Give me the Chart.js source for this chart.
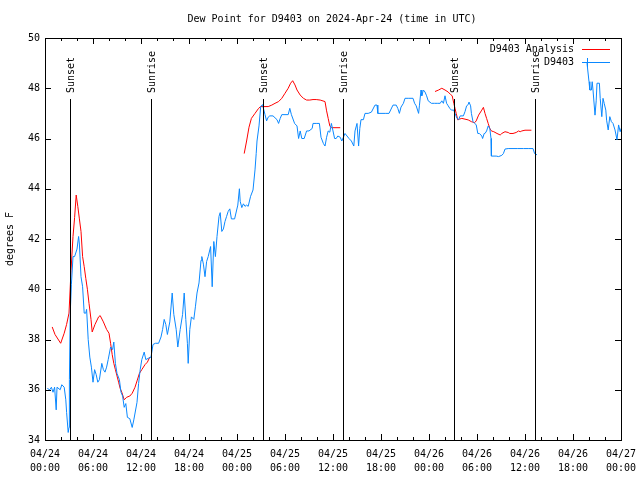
<!DOCTYPE html>
<html>
<head>
<meta charset="utf-8">
<script src="https://cdn.jsdelivr.net/npm/chart.js@4/dist/chart.umd.min.js"></script>
<style>
html,body{margin:0;padding:0;background:#fff;}
canvas{display:block;}
</style>
</head>
<body>
<canvas id="c" width="640" height="480"></canvas>
<script>
// ---- data (x = hours since 2024-04-24 00:00 UTC, y = dew point in F) ----
const titleText = "Dew Point for D9403 on 2024-Apr-24 (time in UTC)";
const yTitle = "degrees F";

const tickDates = ["04/24","04/24","04/24","04/24","04/25","04/25","04/25","04/25","04/26","04/26","04/26","04/26","04/27"];
const tickTimes = ["00:00","06:00","12:00","18:00","00:00","06:00","12:00","18:00","00:00","06:00","12:00","18:00","00:00"];

const sunHours = [3.1, 13.3, 27.2, 37.3, 51.1, 61.2];
const sunLabels = ["Sunset","Sunrise","Sunset","Sunrise","Sunset","Sunrise"];

const obsHours = [0.3,0.6,0.8,1.0,1.2,1.4,1.5,1.9,2.1,2.4,2.6,2.7,2.9,3.0,3.05,3.15,3.3,3.5,3.7,4.0,4.2,4.3,4.5,4.7,4.9,5.1,5.2,5.4,5.6,5.8,6.0,6.2,6.4,6.6,6.8,7.1,7.3,7.5,7.7,7.9,8.2,8.45,8.6,8.8,9.0,9.3,9.5,9.7,9.9,10.1,10.3,10.6,10.9,11.1,11.5,11.7,11.9,12.1,12.4,12.6,12.9,13.25,13.5,13.8,14.2,14.5,14.7,14.9,15.1,15.3,15.6,15.9,16.1,16.4,16.6,16.9,17.2,17.4,17.6,17.8,17.9,18.1,18.3,18.6,18.8,19.0,19.25,19.5,19.6,19.8,20.0,20.2,20.4,20.7,20.9,21.1,21.3,21.5,21.75,21.9,22.1,22.3,22.5,22.7,22.9,23.1,23.3,23.5,23.7,24.1,24.3,24.4,24.6,24.8,25.0,25.2,25.4,25.7,26.0,26.25,26.4,26.5,26.75,26.96,27.2,27.3,27.5,27.7,27.9,28.1,28.5,29.0,29.2,29.4,29.6,30.0,30.4,30.6,30.8,31.2,31.5,31.7,31.9,32.1,32.4,32.7,33.0,33.4,33.5,33.9,34.3,34.5,34.8,35.0,35.2,35.4,35.6,35.8,36.0,36.2,36.4,36.6,36.9,37.1,37.3,37.5,38.0,38.3,38.6,38.75,39.0,39.2,39.35,39.5,39.8,40.0,40.4,40.8,41.25,41.5,41.6,42.0,42.6,43.0,43.5,43.9,44.1,44.3,44.5,44.8,45.0,45.4,46.0,46.2,46.4,46.7,46.8,47.0,47.1,47.3,47.5,47.7,47.9,48.3,48.7,49.1,49.4,49.6,49.8,50.0,50.2,50.4,50.6,50.8,51.1,51.25,51.5,51.7,51.9,52.3,52.5,52.7,52.9,53.0,53.2,53.3,53.5,53.7,53.9,54.1,54.3,54.6,54.7,54.9,55.0,55.2,55.4,55.6,55.75,55.8,56.0,56.4,56.7,57.1,57.3,57.5,57.9,58.5,59.1,59.8,60.4,61.0,61.2,61.5,64.0,67.75,68.0,68.1,68.3,68.4,68.5,68.75,68.9,69.0,69.3,69.4,69.6,69.75,69.9,70.1,70.2,70.4,70.6,70.8,71.0,71.25,71.5,71.7,71.9,72.0];
const obsValues = [36.05,36.0,36.1,35.9,36.1,35.2,36.1,36.0,36.2,36.1,35.6,35.1,34.3,34.5,36.4,39.0,40.2,41.3,41.3,41.6,42.1,41.8,40.5,40.1,39.05,39.05,39.2,38.0,37.3,36.9,36.3,36.8,36.6,36.3,36.4,37.05,36.8,36.7,36.9,37.2,37.7,37.6,37.9,37.05,36.65,36.4,35.9,35.75,35.3,35.45,34.9,34.85,34.5,34.8,35.5,36.25,36.8,37.2,37.5,37.2,37.25,37.3,37.8,37.85,37.85,38.1,38.4,38.8,38.6,38.2,38.7,39.85,39.0,38.4,37.7,38.4,39.0,39.85,38.8,37.85,37.05,38.4,38.9,38.8,39.3,39.85,40.25,41.15,41.3,41.0,40.5,41.1,41.3,41.7,40.1,41.9,41.3,42.1,42.9,43.05,42.3,42.4,42.7,42.9,43.1,43.2,42.8,42.8,42.8,43.35,44.0,43.5,43.25,43.4,43.3,43.35,43.3,43.7,43.95,44.75,45.4,45.9,46.5,47.27,47.35,47.2,46.95,46.7,46.85,46.9,46.9,46.75,46.6,46.8,46.95,46.95,46.95,47.2,46.95,46.6,46.5,46.0,46.3,46.0,46.0,46.3,46.3,46.4,46.6,46.6,46.6,46.05,45.8,45.7,46.05,46.3,46.25,46.6,46.3,46.0,46.0,46.1,46.05,45.9,46.05,46.2,46.0,45.9,45.7,46.3,46.6,45.7,46.4,46.75,46.75,47.0,47.0,47.05,47.33,47.33,47.0,47.0,47.0,47.0,47.33,47.33,47.2,47.0,47.25,47.4,47.6,47.6,47.6,47.4,47.3,47.0,47.3,47.93,47.7,47.93,47.85,47.7,47.5,47.4,47.4,47.4,47.4,47.5,47.4,47.7,47.4,47.3,47.2,47.13,47.13,47.0,46.8,46.75,46.9,46.9,47.07,47.3,47.35,47.45,47.3,47.0,46.67,46.6,46.55,46.2,46.2,46.1,46.0,46.2,46.2,46.3,46.5,46.4,46.0,45.3,45.3,45.3,45.28,45.33,45.4,45.58,45.6,45.6,45.6,45.6,45.6,45.6,45.4,45.35,null,49.0,48.26,47.93,47.93,48.26,47.93,46.93,47.5,48.2,48.2,47.6,46.87,47.6,47.4,47.13,46.73,46.34,46.87,46.67,46.6,46.34,45.95,46.54,46.27,46.4];

const anaHours = [0.9,1.25,1.96,2.4,2.7,3.0,3.25,3.5,3.7,3.9,4.1,4.3,4.5,4.7,4.9,5.1,5.3,5.5,5.75,5.9,6.25,6.7,6.9,7.3,7.7,8.0,8.2,8.4,8.6,8.8,9.0,9.2,9.4,9.6,9.9,10.2,10.6,10.9,11.25,11.5,11.8,12.1,12.5,12.8,13.1,19.0,24.9,25.2,25.5,25.8,26.25,26.7,26.96,27.5,27.9,28.35,28.75,29.2,29.6,30.0,30.4,30.7,30.96,31.25,31.5,31.9,32.3,32.7,33.1,33.5,33.9,34.4,35.0,35.2,35.4,35.6,35.8,36.9,43.0,48.75,49.2,49.6,50.0,50.4,50.7,50.9,51.1,51.25,51.4,51.6,51.8,52.1,52.5,52.9,53.3,53.7,53.9,54.2,54.6,54.8,55.0,55.2,55.4,55.6,55.8,56.1,56.5,56.9,57.1,57.5,57.9,58.1,58.5,58.9,59.2,59.4,59.6,60.0,60.8];
const anaValues = [38.5,38.2,37.85,38.25,38.6,39.05,40.75,42.1,42.85,43.75,43.3,42.8,42.3,41.3,40.9,40.43,40.0,39.44,38.8,38.3,38.6,38.9,38.95,38.7,38.4,38.25,37.85,37.4,37.05,36.8,36.55,36.3,36.05,35.9,35.6,35.7,35.75,35.86,36.1,36.35,36.65,36.8,37.0,37.1,37.3,null,45.4,45.9,46.45,46.8,47.0,47.2,47.27,47.27,47.27,47.33,47.4,47.47,47.6,47.8,48.0,48.2,48.3,48.13,47.93,47.73,47.6,47.53,47.53,47.55,47.55,47.53,47.47,47.1,46.8,46.5,46.43,46.43,null,47.87,47.93,48.0,47.93,47.85,47.75,47.7,47.4,47.2,47.0,46.74,46.77,46.8,46.77,46.74,46.67,46.63,46.7,46.93,47.13,47.24,47.0,46.8,46.6,46.4,46.3,46.27,46.2,46.14,46.2,46.27,46.24,46.2,46.2,46.24,46.3,46.27,46.3,46.33,46.33];

// ---- styles ----
const RED = "#ff0000";
const BLUE = "#0a88ff";
const FONT = "DejaVu Sans Mono";

const toPts = (xs, ys) => xs.map((x, i) => ({x: x, y: ys[i]}));

const decor = {
  id: "decor",
  beforeDatasetsDraw(chart) {
    const {ctx, chartArea: a, scales: {x, y}} = chart;
    ctx.save();
    ctx.strokeStyle = "#000";
    ctx.lineWidth = 1;
    ctx.beginPath();
    for (let h = 0; h <= 72; h += 2) {
      const px = Math.round(x.getPixelForValue(h)) + 0.5;
      const len = (h % 6 === 0) ? 6 : 3;
      ctx.moveTo(px, a.bottom); ctx.lineTo(px, a.bottom - len);
      ctx.moveTo(px, a.top); ctx.lineTo(px, a.top + len);
    }
    for (let v = 34; v <= 50; v += 2) {
      const py = Math.round(y.getPixelForValue(v)) + 0.5;
      ctx.moveTo(a.left, py); ctx.lineTo(a.left + 6, py);
      ctx.moveTo(a.right, py); ctx.lineTo(a.right - 6, py);
    }
    ctx.stroke();
    ctx.restore();
  },
  afterDatasetsDraw(chart) {
    const {ctx, chartArea: a, scales: {x, y}} = chart;
    ctx.save();
    ctx.strokeStyle = "#000";
    ctx.lineWidth = 1;
    sunHours.forEach((h, i) => {
      const px = Math.round(x.getPixelForValue(h)) + 0.5;
      ctx.beginPath();
      ctx.moveTo(px, a.top + 61);
      ctx.lineTo(px, a.bottom);
      ctx.stroke();
      ctx.save();
      ctx.translate(px + 1, a.top + 55);
      ctx.rotate(-Math.PI / 2);
      ctx.fillStyle = "#000";
      ctx.font = "10px '" + FONT + "'";
      ctx.textAlign = "left";
      ctx.textBaseline = "middle";
      ctx.fillText(sunLabels[i], 0, 0);
      ctx.restore();
    });
    ctx.strokeRect(Math.round(a.left) + 0.5, Math.round(a.top) + 0.5,
                   Math.round(a.right - a.left), Math.round(a.bottom - a.top));
    ctx.font = "10px '" + FONT + "'";
    ctx.fillStyle = "#000";
    ctx.textAlign = "right";
    ctx.textBaseline = "middle";
    const lx = a.right - 47, ly1 = a.top + 11, ly2 = a.top + 24;
    ctx.fillText(chart.data.datasets[0].label, lx, ly1);
    ctx.fillText(chart.data.datasets[1].label, lx, ly2);
    ctx.strokeStyle = RED;
    ctx.beginPath(); ctx.moveTo(a.right - 39, ly1 + 0.5); ctx.lineTo(a.right - 11, ly1 + 0.5); ctx.stroke();
    ctx.strokeStyle = BLUE;
    ctx.beginPath(); ctx.moveTo(a.right - 39, ly2 + 0.5); ctx.lineTo(a.right - 11, ly2 + 0.5);
    ctx.moveTo(a.right - 34 + 0.5, ly2 - 4); ctx.lineTo(a.right - 34 + 0.5, ly2 + 5);
    ctx.stroke();
    ctx.restore();
  },
  afterDraw(chart) {
    const {ctx, chartArea: a} = chart;
    ctx.save();
    ctx.fillStyle = "#000";
    ctx.font = "10px '" + FONT + "'";
    ctx.textAlign = "center";
    ctx.textBaseline = "middle";
    ctx.fillText(titleText, 332, 19);
    ctx.translate(10, (a.top + a.bottom) / 2);
    ctx.rotate(-Math.PI / 2);
    ctx.fillText(yTitle, 0, 0);
    ctx.restore();
  }
};

new Chart(document.getElementById("c"), {
  type: "line",
  data: {
    datasets: [
      {label: "D9403 Analysis", data: toPts(anaHours, anaValues), borderColor: RED,
       borderWidth: 1, pointRadius: 0, tension: 0, spanGaps: false, order: 1},
      {label: "D9403", data: toPts(obsHours, obsValues), borderColor: BLUE,
       borderWidth: 1, pointRadius: 0, tension: 0, spanGaps: false, order: 0}
    ]
  },
  options: {
    responsive: false,
    animation: false,
    layout: {padding: {top: 38, right: 19, left: 0, bottom: 0}},
    plugins: {legend: {display: false}, tooltip: {enabled: false}, title: {display: false}},
    scales: {
      x: {
        type: "linear", min: 0, max: 72,
        grid: {display: false, drawTicks: false}, border: {display: false},
        ticks: {stepSize: 6, autoSkip: false, maxRotation: 0, padding: 7, color: "#000",
                font: {family: FONT, size: 10, lineHeight: 1.4},
                callback: (v) => { const i = Math.round(v / 6); return [tickDates[i], tickTimes[i]]; }},
        afterFit: (s) => { s.height = 40; s.paddingLeft = 0; s.paddingRight = 0; }
      },
      y: {
        min: 34, max: 50,
        grid: {display: false, drawTicks: false}, border: {display: false},
        ticks: {stepSize: 2, padding: 5, color: "#000", font: {family: FONT, size: 10}},
        afterFit: (s) => { s.width = 45; s.paddingTop = 0; s.paddingBottom = 0; }
      }
    }
  },
  plugins: [decor]
});
</script>
</body>
</html>
